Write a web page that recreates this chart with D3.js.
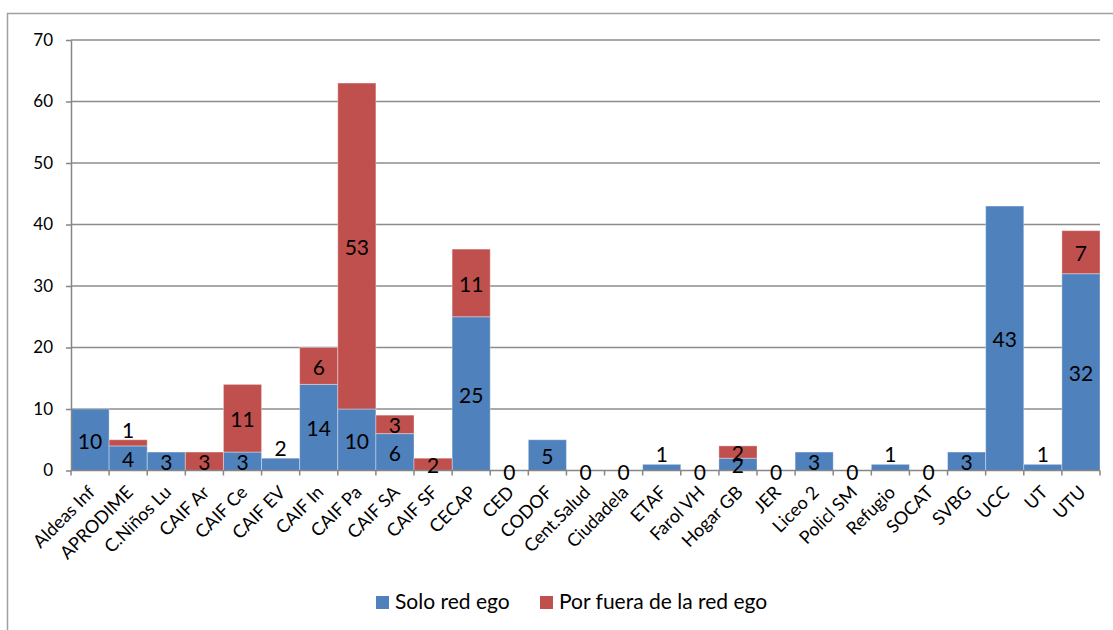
<!DOCTYPE html>
<html lang="es">
  <head>
    <meta charset="UTF-8" />
    <title>Solo red ego / Por fuera de la red ego</title>
    <style>
      body { margin: 0; background: #fff; }
      text { font-family: Lato, "Open Sans", sans-serif; fill: #000; }
      .grid line { stroke: #8c8c8c; stroke-width: 1.5; }
      .axis path, .axis line { stroke: #868686; stroke-width: 1.5; }
    </style>
  </head>
  <body>
    <script src="https://d3js.org/d3.v7.min.js"></script>
    <script>
      const categories = [
        "Aldeas Inf", "APRODIME", "C.Niños Lu", "CAIF Ar", "CAIF Ce", "CAIF EV",
        "CAIF In", "CAIF Pa", "CAIF SA", "CAIF SF", "CECAP", "CED", "CODOF",
        "Cent.Salud", "Ciudadela", "ETAF", "Farol VH", "Hogar GB", "JER",
        "Liceo 2", "Policl SM", "Refugio", "SOCAT", "SVBG", "UCC", "UT", "UTU",
      ];
      const soloRedEgo = [
        10, 4, 3, null, 3, 2, 14, 10, 6, null, 25, 0, 5, 0, 0, 1, 0, 2, 0, 3, 0,
        1, 0, 3, 43, 1, 32,
      ];
      const porFuera = [
        null, 1, null, 3, 11, null, 6, 53, 3, 2, 11, null, null, null, null,
        null, null, 2, null, null, null, null, null, null, null, null, 7,
      ];
      const seriesNames = ["Solo red ego", "Por fuera de la red ego"];
      const yTicks = [0, 10, 20, 30, 40, 50, 60, 70];
      // labels Excel pushed above their small bars
      const labelsAbove = ["APRODIME|1", "CAIF EV|0", "ETAF|0", "Refugio|0", "UT|0"];

      const colors = ["#4f81bd", "#c0504d"];

      const W = 1113, H = 630;
      const plot = { left: 71, right: 1100, top: 40, bottom: 470.5 };

      const svg = d3.select("body").append("svg")
        .attr("width", W).attr("height", H);

      svg.append("rect")
        .attr("x", 7.5).attr("y", 13.5)
        .attr("width", 1200).attr("height", 700)
        .attr("fill", "none").attr("stroke", "#a0a0a0").attr("stroke-width", 1.5);

      const x = d3.scaleBand().domain(categories)
        .range([plot.left, plot.right]).padding(0);
      const y = d3.scaleLinear().domain([0, 70])
        .range([plot.bottom, plot.top]);

      // gridlines
      svg.append("g").attr("class", "grid")
        .selectAll("line").data(yTicks.slice(1)).join("line")
        .attr("x1", plot.left).attr("x2", plot.right)
        .attr("y1", (d) => y(d)).attr("y2", (d) => y(d));

      const rows = categories.map((c, i) => ({
        cat: c,
        s0: soloRedEgo[i] || 0,
        s1: porFuera[i] || 0,
        raw: [soloRedEgo[i], porFuera[i]],
      }));
      const stacked = d3.stack().keys(["s0", "s1"])(rows);

      const layers = svg.append("g").selectAll("g").data(stacked).join("g")
        .attr("fill", (d, i) => colors[i]);

      layers.selectAll("rect").data((d) => d).join("rect")
        .attr("x", (d) => x(d.data.cat))
        .attr("width", x.bandwidth())
        .attr("y", (d) => y(d[1]))
        .attr("height", (d) => y(d[0]) - y(d[1]))
        .attr("stroke", "#ffffff").attr("stroke-opacity", 0.35).attr("stroke-width", 1);

      // axes
      const yAxis = d3.axisLeft(y).tickValues(yTicks).tickSize(5).tickPadding(13)
        .tickSizeOuter(0);
      const gy = svg.append("g").attr("class", "axis")
        .attr("transform", `translate(${plot.left},0)`).call(yAxis);
      gy.selectAll("text").style("font-size", "17px");

      const gx = svg.append("g").attr("class", "axis")
        .attr("transform", `translate(0,${plot.bottom})`);
      gx.append("line").attr("x1", plot.left).attr("x2", plot.right);
      gx.selectAll(".tk").data(d3.range(categories.length + 1)).join("line")
        .attr("class", "tk")
        .attr("x1", (i) => plot.left + i * x.bandwidth())
        .attr("x2", (i) => plot.left + i * x.bandwidth())
        .attr("y1", 0).attr("y2", 5);
      gx.selectAll("text").data(categories).join("text")
        .attr("text-anchor", "end")
        .attr("transform", (d) =>
          `translate(${x(d) + x.bandwidth() / 2 + 6},${23}) rotate(-45)`)
        .style("font-size", "18px")
        .text((d) => d);

      // data labels
      const labels = [];
      stacked.forEach((layer, si) => {
        layer.forEach((d) => {
          const v = d.data.raw[si];
          if (v === null || v === undefined) return;
          const above = labelsAbove.includes(d.data.cat + "|" + si);
          const yy = above ? y(d[1]) - 2 : (y(d[0]) + y(d[1])) / 2 + 9;
          labels.push({ x: x(d.data.cat) + x.bandwidth() / 2, y: yy, v });
        });
      });
      svg.append("g").selectAll("text").data(labels).join("text")
        .attr("x", (d) => d.x).attr("y", (d) => d.y)
        .attr("text-anchor", "middle")
        .style("font-size", "21px")
        .text((d) => d.v);

      // legend
      const legend = svg.append("g").attr("transform", "translate(376,596)");
      const items = [
        { name: seriesNames[0], color: colors[0], dx: 0 },
        { name: seriesNames[1], color: colors[1], dx: 164 },
      ];
      const li = legend.selectAll("g").data(items).join("g")
        .attr("transform", (d) => `translate(${d.dx},0)`);
      li.append("rect").attr("width", 13).attr("height", 13)
        .attr("fill", (d) => d.color);
      li.append("text").attr("x", 19).attr("y", 13)
        .style("font-size", "21px").text((d) => d.name);
    </script>
  </body>
</html>
